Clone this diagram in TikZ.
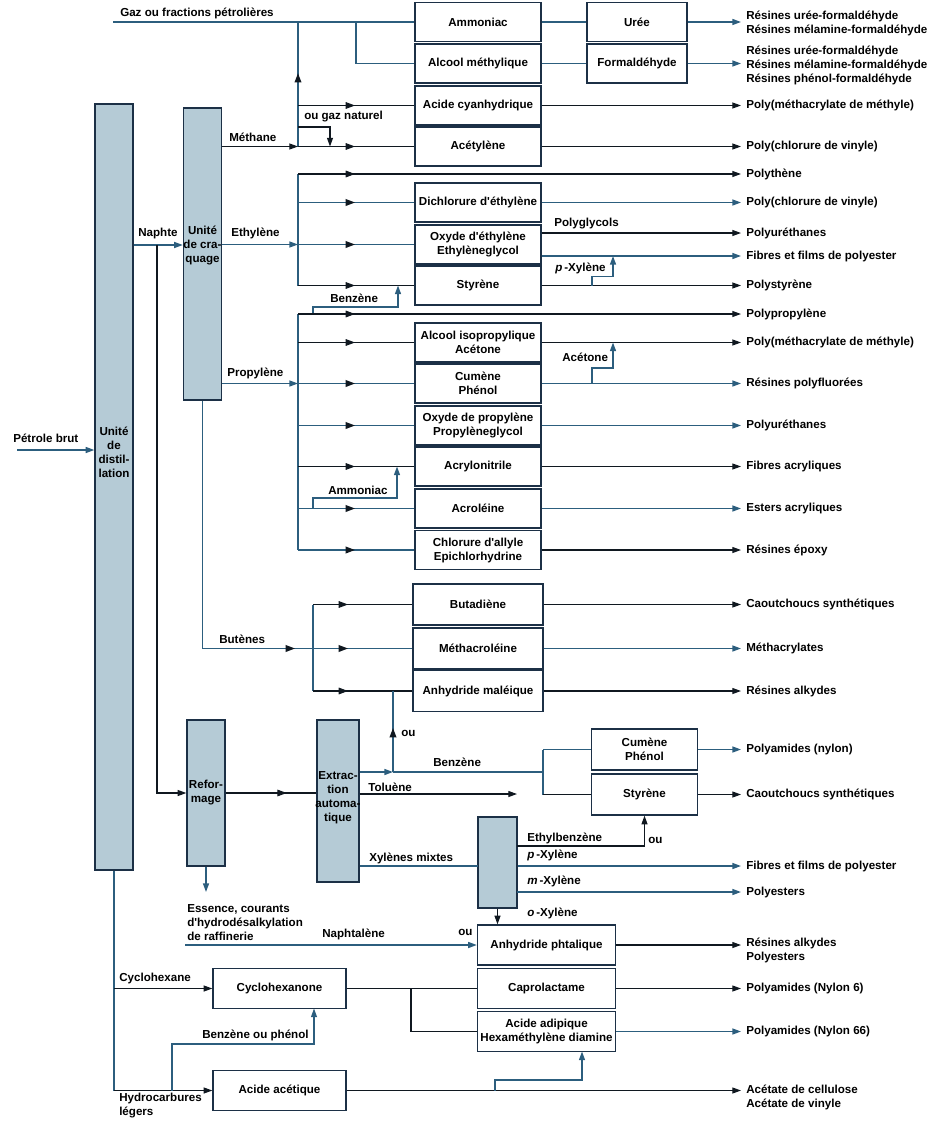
\documentclass[tikz,border=0pt]{standalone}
\usepackage{fontspec}
\setmainfont{Liberation Sans}[Ligatures=TeXOff]
\usetikzlibrary{arrows.meta,decorations.markings}
\definecolor{linec}{RGB}{16,24,32}
\definecolor{bluec}{RGB}{44,94,126}
\definecolor{framec}{RGB}{28,48,70}
\definecolor{unitc}{RGB}{181,203,214}
\tikzset{
  >={Triangle[length=6.5pt,width=4.5pt]},
  every node/.style={font=\bfseries\fontsize{8.7}{10.5}\selectfont},
  box/.style={draw=framec, line width=1pt, fill=white, align=center, inner sep=1pt, minimum width=94.5pt, minimum height=29.25pt},
  boxn/.style={box, minimum width=75pt},
  boxw/.style={box, minimum width=97.5pt, minimum height=30.75pt},
  boxs/.style={box, minimum width=79.5pt, minimum height=30.75pt},
  boxp/.style={box, minimum width=103.5pt, minimum height=30pt},
  boxc/.style={box, minimum width=99.75pt, minimum height=30pt},
  unit/.style={draw=framec, line width=1pt, fill=unitc, align=center, inner sep=0pt, minimum width=28.5pt},
  lbl/.style={anchor=west, inner sep=0pt, align=left},
  prod/.style={anchor=west, inner xsep=3.75pt, inner ysep=0pt, align=left},
  kline/.style={draw=linec, line width=0.8pt},
  bline/.style={draw=bluec, line width=1.1pt},
  tipat/.style={postaction={decorate}, decoration={markings, mark=at position #1 with {\arrow[linec]{Triangle[length=7pt,width=5pt]}}}}
}
\begin{document}
\begin{tikzpicture}[x=0.75pt,y=-0.75pt]
\useasboundingbox (0,0) rectangle (942,1138);
% units
\node[unit, minimum height=574.5pt] (dist) at (114,487) {};
\node[lbl, anchor=center, align=center] at (114,452) {Unité\\de\\distil-\\lation};
\node[unit, minimum height=219pt] (craq) at (202.5,254) {};
\node[lbl, anchor=center, align=center] at (202.5,245) {Unité\\de cra-\\quage};
\node[unit, minimum height=109.5pt] (reform) at (206,793) {Refor-\\mage};
\node[unit, minimum width=31.5pt, minimum height=121.5pt] (extr) at (338,801) {};
\node[lbl, anchor=center, align=center] at (338,798) {Extrac-\\tion\\automa-\\tique};
\node[unit, minimum width=29.25pt, minimum height=68.25pt] (xyl) at (497.5,862.5) {};
% boxes
\node[box] (ammo) at (478,22) {Ammoniac};
\node[boxn] (uree) at (637,22) {Urée};
\node[box] (alcm) at (478,63.5) {Alcool méthylique};
\node[boxn] (formal) at (637,63.5) {Formaldéhyde};
\node[box] (acyan) at (478,105.5) {Acide cyanhydrique};
\node[box] (acet) at (478,146.5) {Acétylène};
\node[box] (dichl) at (478,202.5) {Dichlorure d'éthylène};
\node[box] (oxeth) at (478,244.5) {Oxyde d'éthylène\\Ethylèneglycol};
\node[box] (styr) at (478,285.5) {Styrène};
\node[box] (aliso) at (478,342.5) {Alcool isopropylique\\Acétone};
\node[box] (cumen) at (478,383.5) {Cumène\\Phénol};
\node[box] (oxpro) at (478,425.5) {Oxyde de propylène\\Propylèneglycol};
\node[box] (acryl) at (478,466.5) {Acrylonitrile};
\node[box] (acrol) at (478,508.5) {Acroléine};
\node[box] (chlal) at (478,550) {Chlorure d'allyle\\Epichlorhydrine};
\node[boxw] (butad) at (478,604.5) {Butadiène};
\node[boxw] (methac) at (478,648.5) {Méthacroléine};
\node[boxw] (anmal) at (478,691) {Anhydride maléique};
\node[boxs] (cumenb) at (644.5,749.5) {Cumène\\Phénol};
\node[boxs] (styrb) at (644.5,794.5) {Styrène};
\node[boxp] (anphta) at (546.5,945) {Anhydride phtalique};
\node[boxp] (capro) at (546.5,988.5) {Caprolactame};
\node[boxp] (acadip) at (546.5,1031.5) {Acide adipique\\Hexaméthylène diamine};
\node[boxc] (cyclo) at (279.5,988.5) {Cyclohexanone};
\node[boxc] (acacet) at (279.5,1090.5) {Acide acétique};
% products
\node[prod] (p1) at (741,23) {Résines urée-formaldéhyde\\Résines mélamine-formaldéhyde};
\node[prod] (p2) at (741,65.5) {Résines urée-formaldéhyde\\Résines mélamine-formaldéhyde\\Résines phénol-formaldéhyde};
\node[prod] (p3) at (741,105.5) {Poly(méthacrylate de méthyle)};
\node[prod] (p4) at (741,146.5) {Poly(chlorure de vinyle)};
\node[prod] (p5) at (741,174) {Polythène};
\node[prod] (p6) at (741,202.5) {Poly(chlorure de vinyle)};
\node[prod] (p7) at (741,233) {Polyuréthanes};
\node[prod] (p8) at (741,256) {Fibres et films de polyester};
\node[prod] (p9) at (741,285.5) {Polystyrène};
\node[prod] (p10) at (741,314) {Polypropylène};
\node[prod] (p11) at (741,342.5) {Poly(méthacrylate de méthyle)};
\node[prod] (p12) at (741,383.5) {Résines polyfluorées};
\node[prod] (p13) at (741,425.5) {Polyuréthanes};
\node[prod] (p14) at (741,466.5) {Fibres acryliques};
\node[prod] (p15) at (741,508.5) {Esters acryliques};
\node[prod] (p16) at (741,550) {Résines époxy};
\node[prod] (p17) at (741,604.5) {Caoutchoucs synthétiques};
\node[prod] (p18) at (741,648.5) {Méthacrylates};
\node[prod] (p19) at (741,691) {Résines alkydes};
\node[prod] (p20) at (741,749.5) {Polyamides (nylon)};
\node[prod] (p21) at (741,794.5) {Caoutchoucs synthétiques};
\node[prod] (p22) at (741,866) {Fibres et films de polyester};
\node[prod] (p23) at (741,892) {Polyesters};
\node[prod] (p24) at (741,950) {Résines alkydes\\Polyesters};
\node[prod] (p25) at (741,988.5) {Polyamides (Nylon 6)};
\node[prod] (p26) at (741,1031.5) {Polyamides (Nylon 66)};
\node[prod] (p27) at (741,1097) {Acétate de cellulose\\Acétate de vinyle};
% labels
\node[lbl] at (13,438) {Pétrole brut};
\node[lbl] at (120,13) {Gaz ou fractions pétrolières};
\node[lbl] at (229,137) {Méthane};
\node[lbl] at (304,117) {ou gaz naturel};
\node[lbl] at (138,233) {Naphte};
\node[lbl] at (231,233) {Ethylène};
\node[lbl] at (330,298) {Benzène};
\node[lbl] at (554,224) {Polyglycols};
\node[lbl] at (555,268) {\textit{p}\,-Xylène};
\node[lbl] at (227,373) {Propylène};
\node[lbl] at (562,357) {Acétone};
\node[lbl] at (328,490) {Ammoniac};
\node[lbl] at (219,639) {Butènes};
\node[lbl] at (401,733) {ou};
\node[lbl] at (433,762) {Benzène};
\node[lbl] at (368,787) {Toluène};
\node[lbl] at (369,858) {Xylènes mixtes};
\node[lbl] at (527,838) {Ethylbenzène};
\node[lbl] at (648,840) {ou};
\node[lbl] at (527,855) {\textit{p}\,-Xylène};
\node[lbl] at (527,881) {\textit{m}\,-Xylène};
\node[lbl] at (527,913) {\textit{o}\,-Xylène};
\node[lbl] at (187,923) {Essence, courants\\d'hydrodésalkylation\\de raffinerie};
\node[lbl] at (322,934) {Naphtalène};
\node[lbl] at (458,932) {ou};
\node[lbl] at (119,978) {Cyclohexane};
\node[lbl] at (202,1035) {Benzène ou phénol};
\node[lbl] at (119,1106) {Hydrocarbures\\légers};
% junctions
\coordinate (crude) at (17,450);
\coordinate (gazs) at (113,22);
\coordinate (jgaz) at (298,22);
\coordinate (jalc) at (356,22);
\coordinate (jcyan) at (298,105.5);
\coordinate (jnat) at (298,127);
\coordinate (jnatb) at (330,146.5);
\coordinate (jmeth) at (298,146.5);
\coordinate (jnaph) at (157,245);
\coordinate (jref) at (157,793);
\coordinate (jpe) at (298,174);
\coordinate (jeth) at (298,244.5);
\coordinate (jsty) at (298,285.5);
\coordinate (jbenz) at (313,314);
\coordinate (cbenz) at (398,285.5);
\coordinate (jpx) at (592,285.5);
\coordinate (cpx) at (613,256);
\coordinate (jpp) at (298,314);
\coordinate (jpro) at (298,383.5);
\coordinate (jchl) at (298,550);
\coordinate (jact) at (592,383.5);
\coordinate (cact) at (613,342.5);
\coordinate (jamm) at (313,508.5);
\coordinate (camm) at (397,466.5);
\coordinate (jbd) at (313,604.5);
\coordinate (jbut) at (313,648.5);
\coordinate (jam) at (313,691);
\coordinate (ess) at (206,892);
\coordinate (jbz) at (393,772);
\coordinate (jsplit) at (543,772);
\coordinate (tol) at (517,794);
\coordinate (cxy) at (478,866);
\coordinate (ceb) at (517,846);
\coordinate (cmx) at (517,892);
\coordinate (nap) at (185,945);
\coordinate (jhc) at (114,1090.5);
\coordinate (jbp) at (172,1090.5);
\coordinate (cbp) at (314,1008.5);
\coordinate (jad) at (411,988.5);
\coordinate (jac) at (495,1090.5);
\coordinate (cac) at (582,1051.5);
% feed
\draw[bline, ->] (crude) -- (crude -| dist.west);
\draw[bline, ->] (jnaph -| dist.east) -- (jnaph -| craq.west);
\draw[kline, ->] (jnaph) -- (jref) -- (reform.west);
% methane
\draw[bline] (gazs) -- (ammo.west);
\draw[bline] (jalc) |- (alcm.west);
\draw[bline, tipat=55pt] (jmeth) -- (jgaz);
\draw[kline, ->] (jmeth -| craq.east) -- (jmeth);
\draw[kline, tipat=42.75pt] (jmeth) -- (acet.west);
\draw[kline, tipat=42.75pt] (jcyan) -- (acyan.west);
\draw[kline, ->] (jnat) -| (jnatb);
\draw[bline] (ammo) -- (uree);
\draw[bline] (alcm) -- (formal);
\draw[bline, ->] (uree.east) -- (uree.east -| p1.west);
\draw[bline, ->] (formal.east) -- (formal.east -| p2.west);
\draw[kline, ->] (acyan.east) -- (acyan.east -| p3.west);
\draw[kline, ->] (acet.east) -- (acet.east -| p4.west);
% ethylene
\draw[bline, ->] (jeth -| craq.east) -- (jeth);
\draw[bline] (jpe) -- (jsty);
\draw[kline, tipat=42.75pt, ->] (jpe) -- (p5.west);
\draw[bline, tipat=42.75pt] (jpe |- dichl.west) -- (dichl.west);
\draw[bline, tipat=42.75pt] (jeth) -- (oxeth.west);
\draw[kline, tipat=42.75pt] (jsty) -- (styr.west);
\draw[bline, ->] (jbenz) -- ++(0,-7) -| (cbenz);
\draw[bline, ->] (dichl.east) -- (dichl.east -| p6.west);
\draw[kline, ->] (p7.west -| oxeth.east) -- (p7.west);
\draw[bline, ->] (p8.west -| oxeth.east) -- (p8.west);
\draw[kline, ->] (styr.east) -- (styr.east -| p9.west);
\draw[bline, ->] (jpx) -- ++(0,-9) -| (cpx);
% propylene
\draw[bline, ->] (jpro -| craq.east) -- (jpro);
\draw[bline] (jpp) -- (jchl);
\draw[kline, tipat=42.75pt, ->] (jpp) -- (p10.west);
\draw[kline, tipat=42.75pt] (jpp |- aliso.west) -- (aliso.west);
\draw[bline, tipat=42.75pt] (jpro) -- (cumen.west);
\draw[bline, tipat=42.75pt] (jpp |- oxpro.west) -- (oxpro.west);
\draw[kline, tipat=42.75pt] (jpp |- acryl.west) -- (acryl.west);
\draw[bline, tipat=42.75pt] (jpp |- acrol.west) -- (acrol.west);
\draw[bline, tipat=42.75pt] (jchl) -- (chlal.west);
\draw[bline, ->] (jamm) -- ++(0,-10.5) -| (camm);
\draw[kline, ->] (aliso.east) -- (aliso.east -| p11.west);
\draw[bline, ->] (cumen.east) -- (cumen.east -| p12.west);
\draw[bline, ->] (jact) -- ++(0,-15.5) -| (cact);
\draw[bline, ->] (oxpro.east) -- (oxpro.east -| p13.west);
\draw[kline, ->] (acryl.east) -- (acryl.east -| p14.west);
\draw[bline, ->] (acrol.east) -- (acrol.east -| p15.west);
\draw[kline, ->] (chlal.east) -- (chlal.east -| p16.west);
% butenes
\draw[bline, tipat=-13.5pt] (craq.south) |- (jbut);
\draw[bline, tipat=26.25pt] (jbut) -- (methac.west);
\draw[bline] (jbd) -- (jam);
\draw[kline, tipat=26.25pt] (jbd) -- (butad.west);
\draw[kline, tipat=26.25pt] (jam) -- (anmal.west);
\draw[kline, ->] (butad.east) -- (butad.east -| p17.west);
\draw[bline, ->] (methac.east) -- (methac.east -| p18.west);
\draw[kline, ->] (anmal.east) -- (anmal.east -| p19.west);
% reforming
\draw[kline, tipat=45.75pt] (reform.east) -- (reform.east -| extr.west);
\draw[bline, ->] (reform.south) -- (ess);
\draw[bline, ->] (jbz -| extr.east) -- (jbz);
\draw[bline, tipat=33pt] (jbz) -- (jbz |- anmal.west);
\draw[bline] (jbz) -- (jsplit);
\draw[bline, line width=0.8pt] (jsplit |- cumenb.west) -- (jsplit |- styrb.west);
\draw[bline] (jsplit |- cumenb.west) -- (cumenb.west);
\draw[kline] (jsplit |- styrb.west) -- (styrb.west);
\draw[kline, ->] (tol -| extr.east) -- (tol);
\draw[bline] (cxy -| extr.east) -- (cxy);
\draw[kline, ->] (ceb) -| (styrb.south);
\draw[bline, ->] (cxy -| xyl.east) -- (cxy -| p22.west);
\draw[bline, ->] (cmx) -- (cmx -| p23.west);
\draw[kline, ->] (xyl.south) -- (xyl.south |- anphta.north);
\draw[bline, ->] (cumenb.east) -- (cumenb.east -| p20.west);
\draw[kline, ->] (styrb.east) -- (styrb.east -| p21.west);
% aromatics
\draw[bline, ->] (nap) -- (nap -| anphta.west);
\draw[kline, ->] (anphta.east) -- (anphta.east -| p24.west);
\draw[bline] (dist.south) -- (jhc);
\draw[kline, ->] (dist.south |- cyclo.west) -- (cyclo.west);
\draw[kline, ->] (jhc) -- (acacet.west);
\draw[bline, line width=0.8pt, ->] (jbp) -- ++(0,-46.5) -| (cbp);
\draw[kline] (cyclo) -- (capro);
\draw[kline] (jad) |- (acadip.west);
\draw[kline, ->] (capro.east) -- (capro.east -| p25.west);
\draw[bline, ->] (acadip.east) -- (acadip.east -| p26.west);
\draw[kline, ->] (acacet.east) -- (acacet.east -| p27.west);
\draw[bline, ->] (jac) -- ++(0,-10.5) -| (cac);
\end{tikzpicture}
\end{document}
